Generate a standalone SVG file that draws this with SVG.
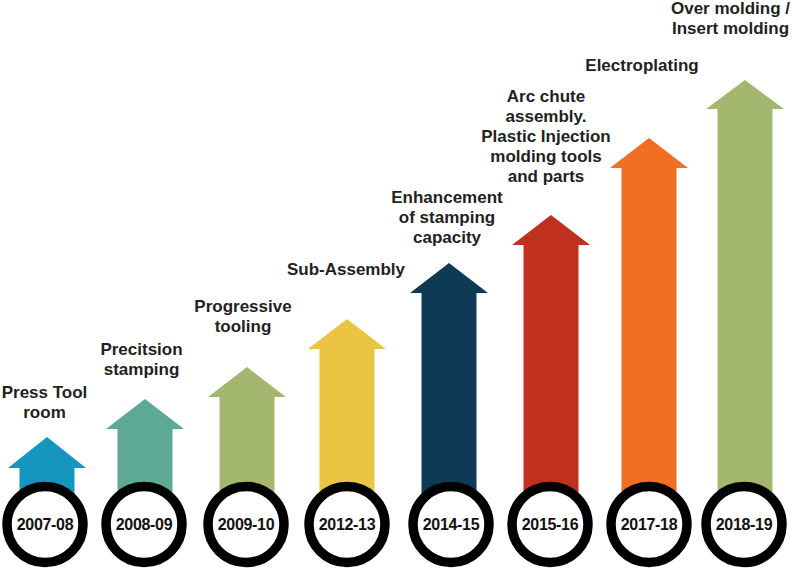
<svg xmlns="http://www.w3.org/2000/svg" width="792" height="568" viewBox="0 0 792 568">
<style>
.ring{fill:#fff;stroke:#000;stroke-width:9.5}
.yr{font-family:"Liberation Sans",Arial,sans-serif;font-weight:bold;font-size:16px;fill:#111;text-anchor:middle;letter-spacing:-0.3px}
.lbl{font-family:"Liberation Sans",Arial,sans-serif;font-weight:bold;font-size:17px;fill:#231F20;text-anchor:middle}
</style>
<rect width="792" height="568" fill="#fff"/>
<g id="node-2007-08">
<path d="M47,437 L86,468 L74.5,468 L74.5,525 L19.5,525 L19.5,468 L8,468 Z" fill="#1596BE"/>
<circle class="ring" cx="45" cy="524.5" r="38"/>
<text class="yr" x="45" y="530">2007-08</text>
<text class="lbl" x="44.5" y="398">Press Tool</text>
<text class="lbl" x="44.5" y="418">room</text>
</g>
<g id="node-2008-09">
<path d="M145,399 L184,429 L172.5,429 L172.5,525 L117.5,525 L117.5,429 L106,429 Z" fill="#5EA993"/>
<circle class="ring" cx="144" cy="524.5" r="38"/>
<text class="yr" x="144" y="530">2008-09</text>
<text class="lbl" x="141.5" y="355">Precitsion</text>
<text class="lbl" x="141.5" y="375">stamping</text>
</g>
<g id="node-2009-10">
<path d="M247,367 L286,397 L274.5,397 L274.5,525 L219.5,525 L219.5,397 L208,397 Z" fill="#A3B86E"/>
<circle class="ring" cx="246" cy="524.5" r="38"/>
<text class="yr" x="246" y="530">2009-10</text>
<text class="lbl" x="243" y="312">Progressive</text>
<text class="lbl" x="243" y="332">tooling</text>
</g>
<g id="node-2012-13">
<path d="M347,319 L386,349 L374.5,349 L374.5,525 L319.5,525 L319.5,349 L308,349 Z" fill="#EAC543"/>
<circle class="ring" cx="347" cy="524.5" r="38"/>
<text class="yr" x="347" y="530">2012-13</text>
<text class="lbl" x="346" y="275">Sub-Assembly</text>
</g>
<g id="node-2014-15">
<path d="M449,263 L488,293 L476.5,293 L476.5,525 L421.5,525 L421.5,293 L410,293 Z" fill="#0E3A55"/>
<circle class="ring" cx="451" cy="524.5" r="38"/>
<text class="yr" x="451" y="530">2014-15</text>
<text class="lbl" x="447" y="203">Enhancement</text>
<text class="lbl" x="447" y="223">of stamping</text>
<text class="lbl" x="447" y="243">capacity</text>
</g>
<g id="node-2015-16">
<path d="M551,215 L590,245 L578.5,245 L578.5,525 L523.5,525 L523.5,245 L512,245 Z" fill="#C0301F"/>
<circle class="ring" cx="550" cy="524.5" r="38"/>
<text class="yr" x="550" y="530">2015-16</text>
<text class="lbl" x="546" y="102">Arc chute</text>
<text class="lbl" x="546" y="122">assembly.</text>
<text class="lbl" x="546" y="142">Plastic Injection</text>
<text class="lbl" x="546" y="162">molding tools</text>
<text class="lbl" x="546" y="182">and parts</text>
</g>
<g id="node-2017-18">
<path d="M649,138 L688,168 L676.5,168 L676.5,525 L621.5,525 L621.5,168 L610,168 Z" fill="#F26E22"/>
<circle class="ring" cx="649" cy="524.5" r="38"/>
<text class="yr" x="649" y="530">2017-18</text>
<text class="lbl" x="642" y="71">Electroplating</text>
</g>
<g id="node-2018-19">
<path d="M745,80 L784,109 L772.5,109 L772.5,525 L717.5,525 L717.5,109 L706,109 Z" fill="#A3B86E"/>
<circle class="ring" cx="744" cy="524.5" r="38"/>
<text class="yr" x="744" y="530">2018-19</text>
<text class="lbl" x="730.5" y="14">Over molding /</text>
<text class="lbl" x="730.5" y="34">Insert molding</text>
</g>
<g id="connectors"/>
</svg>
